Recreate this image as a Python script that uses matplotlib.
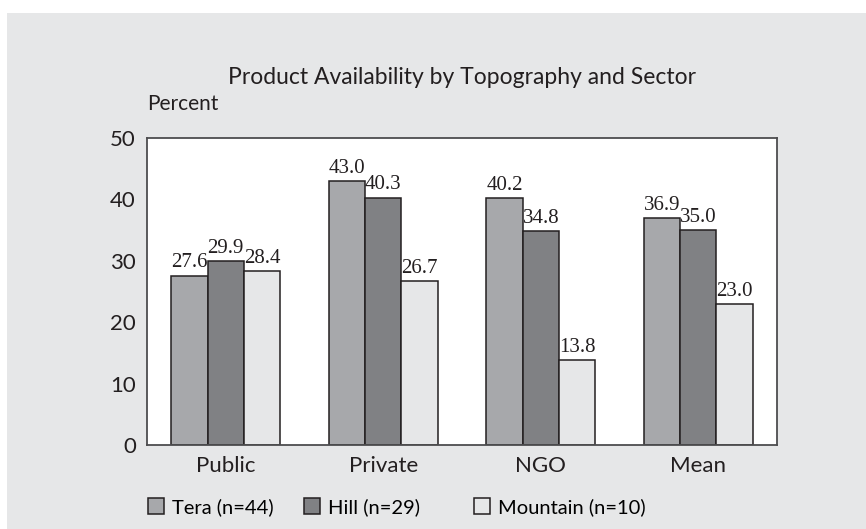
import numpy as np
import matplotlib.pyplot as plt
from matplotlib.patches import Rectangle

sectors = ["Public", "Private", "NGO", "Mean"]
tera = [27.6, 43.0, 40.2, 36.9]
hill = [29.9, 40.3, 34.8, 35.0]
mountain = [28.4, 26.7, 13.8, 23.0]
series_names = ["Tera (n=44)", "Hill (n=29)", "Mountain (n=10)"]
colors = ["#a7a8ab", "#808184", "#e6e7e8"]

bg = "#e6e7e8"
sans = ["Lato", "DejaVu Sans"]
serif = ["Liberation Serif", "DejaVu Serif"]

fig = plt.figure(figsize=(8.66, 5.29), dpi=100)
fig.patch.set_facecolor("white")
fig.patches.append(Rectangle((7 / 866, 0), 1, 1 - 13 / 529, transform=fig.transFigure,
                             facecolor=bg, edgecolor="none", zorder=-1))

ax = fig.add_axes([147 / 866, 1 - 445 / 529, 630 / 866, 307 / 529])
ax.set_facecolor("white")

x = np.arange(len(sectors))
w = 0.23
handles = []
for k, vals in enumerate([tera, hill, mountain]):
    b = ax.bar(x + (k - 1) * w, vals, w, color=colors[k], edgecolor="#231f20",
               linewidth=1.1, label=series_names[k])
    handles.append(b)
    for xi, v in zip(x + (k - 1) * w, vals):
        ax.text(xi, v + 0.5, f"{v:.1f}", ha="center", va="bottom", fontsize=15,
                family=serif, color="#231f20")

ax.set_xlim(-0.5, 3.5)
ax.set_ylim(0, 50)
ax.set_yticks([0, 10, 20, 30, 40, 50])
ax.set_xticks(x)
ax.set_xticklabels(sectors, family=sans, fontsize=16, color="#231f20")
for lab in ax.get_yticklabels():
    lab.set_family(sans)
    lab.set_fontsize(16)
    lab.set_color("#231f20")
ax.tick_params(axis="both", length=0, pad=8)
for s in ax.spines.values():
    s.set_color("#4d4d4f")
    s.set_linewidth(1.3)

fig.text(462 / 866, 1 - 77 / 529, "Product Availability by Topography and Sector",
         ha="center", va="center", fontsize=16.5, family=sans, color="#231f20")
fig.text(147 / 866, 1 - 104 / 529, "Percent", ha="left", va="center",
         fontsize=15, family=sans, color="#231f20")

# one legend per entry, the gaps in the original are uneven
for h, name, xpos in zip(handles, series_names, [148, 304, 474]):
    leg = fig.legend([h], [name], loc="center left",
                     bbox_to_anchor=(xpos / 866, 1 - 507 / 529), frameon=False,
                     handlelength=0.8, handleheight=0.8, handletextpad=0.4,
                     borderpad=0, borderaxespad=0, prop={"family": sans, "size": 14.5})

fig.savefig("out.png", dpi=100)
